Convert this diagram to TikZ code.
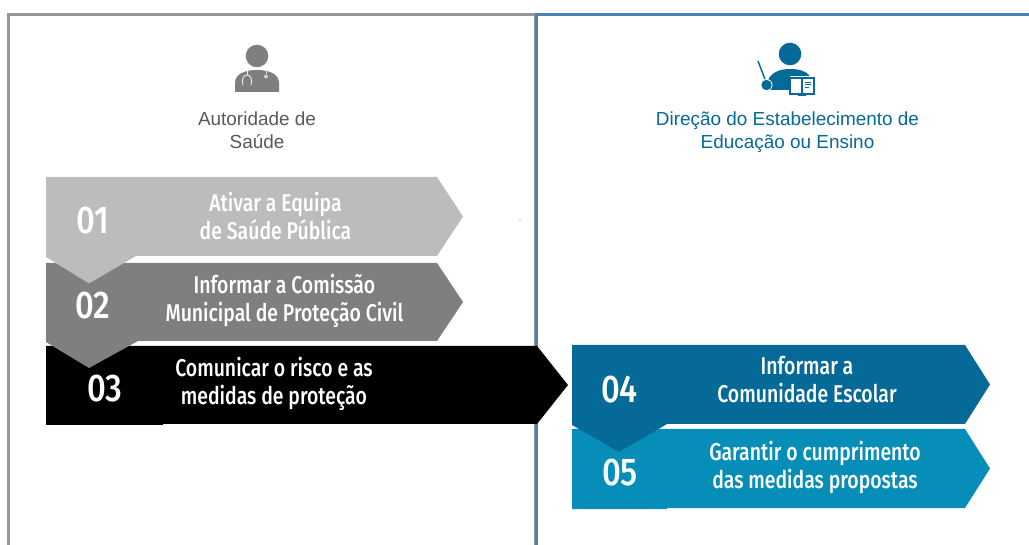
\documentclass[tikz,border=0pt]{standalone}
\usepackage{fontspec}
\setmainfont{Liberation Sans}
\newfontfamily\stepfont[FakeStretch=0.8,UprightFont={* Medium}]{Fira Sans}
\newfontfamily\numfont[FakeStretch=0.85,UprightFont={* Medium}]{Fira Sans}
\definecolor{cA}{HTML}{BCBCBC}
\definecolor{cB}{HTML}{7F7F7F}
\definecolor{cC}{HTML}{000000}
\definecolor{cD}{HTML}{056A97}
\definecolor{cE}{HTML}{068EB9}
\definecolor{frameGrey}{HTML}{979797}
\definecolor{frameBlue}{HTML}{4A82B8}
\definecolor{labelGrey}{HTML}{595959}
\tikzset{
  x=0.75pt,y=-0.75pt,
  stepname/.style={text=white,align=center,inner sep=0pt,font=\stepfont\fontsize{18.2}{21}\selectfont},
  stepnum/.style={text=white,inner sep=0pt,font=\numfont\fontsize{29}{29}\selectfont},
  rolelabel/.style={inner sep=0pt,align=center,font=\fontsize{14.2}{17.5}\selectfont},
  framegrey/.style={draw=frameGrey,line width=2.2pt},
  frameblue/.style={draw=frameBlue,line width=2.2pt},
}
% #1 colour, #2 left, #3 top, #4 bottom, #5 shoulder, #6 tip, #7 pointer tip x, #8 pointer right x, #9 pointer tip y
\newcommand{\stepshape}[9]{%
  \fill[#1] (#2,#3) -- (#5,#3) -- (#6,{(#3+#4)/2}) -- (#5,#4) -- (#8,#4) -- (#7,#9) -- (#2,#4+1) -- cycle;
}
\begin{document}
\begin{tikzpicture}
\useasboundingbox (0,0) rectangle (1029,545);
\fill[white] (0,0) rectangle (1029,545);
% frames
\draw[framegrey] (8.5,545) -- (8.5,14.5) -- (535,14.5) -- (535,545);
\draw[frameblue] (536.5,545) -- (536.5,14.5) -- (1029,14.5);
% speck
\fill[frameGrey] (520,219.5) circle (0.7);
% step shapes (later steps lie under earlier pointers)
\fill[cC] (46,346) -- (537,346) -- (568,385) -- (537,424) -- (163,424) -- (163,425) -- (46,425) -- cycle;
\stepshape{cB}{46}{263}{341}{437}{463}{89}{138}{368}
\stepshape{cA}{46}{177}{256}{437}{463}{89}{136}{283.5}
\fill[cE] (572,429) -- (965,429) -- (990,468.5) -- (965,508) -- (667,508) -- (667,509) -- (572,509) -- cycle;
\stepshape{cD}{572}{345}{424}{965}{990}{619}{667}{452}
% step labels
\node[stepnum] (n1) at (93,221) {01};
\node[stepname] (t1) at (275.5,216.5) {Ativar a Equipa\\de Saúde Pública};
\node[stepnum] (n2) at (93,306) {02};
\node[stepname] (t2) at (284.5,301) {Informar a Comissão\\Municipal de Proteção Civil};
\node[stepnum] (n3) at (105,389) {03};
\node[stepname] (t3) at (274,384) {Comunicar o risco e as\\medidas de proteção};
\node[stepnum] (n4) at (619.5,390) {04};
\node[stepname] (t4) at (807,380) {Informar a\\Comunidade Escolar};
\node[stepnum] (n5) at (620,473) {05};
\node[stepname] (t5) at (815,467) {Garantir o cumprimento\\das medidas propostas};
% role labels
\node[rolelabel,text=labelGrey] (r1) at (257,130.5) {Autoridade de\\Saúde};
\node[rolelabel,text=cD] (r2) at (787.5,132) {Direção do Estabelecimento de\\Educação ou Ensino};
% doctor icon
\fill[cB] (257,56) circle (11.3);
\fill[cB] (235,92) -- (235,83) .. controls (235,75) and (243,70) .. (257,70) .. controls (271,70) and (279,75) .. (279,83) -- (279,92) -- cycle;
\draw[white!85!cB,line width=0.7pt] (243,85) .. controls (241,79) and (244,75) .. (247,75) .. controls (250,75) and (253,79) .. (251,85);
\draw[white!85!cB,line width=0.5pt] (247,75) -- (247,71);
\draw[white!70!cB,line width=0.5pt] (266,71) -- (266,74);
\fill[white!65!cB] (266,76.5) circle (2);
% teacher icon
\fill[cD] (790,54) circle (11.3);
\fill[cD] (768,90) -- (768,80) .. controls (772,72) and (780,69) .. (790,69) .. controls (799,69) and (806,71) .. (810,76) -- (790,76) -- (790,90) -- cycle;
\draw[cD,line width=1.1pt] (758,61) -- (766,82);
\fill[white] (766.5,85) circle (6);
\fill[cD] (766.5,85) circle (5.2);
\draw[cD,line width=1.1pt,fill=white] (790,78) rectangle (814,94);
\draw[cD,line width=1pt] (802,78) -- (802,94);
\draw[cD,line width=0.7pt] (804.5,82) -- (811,82) (804.5,84.5) -- (811,84.5) (804.5,87) -- (809,87);
\draw[cD,line width=1pt] (798,95.8) -- (806,95.8);
\end{tikzpicture}
\end{document}
